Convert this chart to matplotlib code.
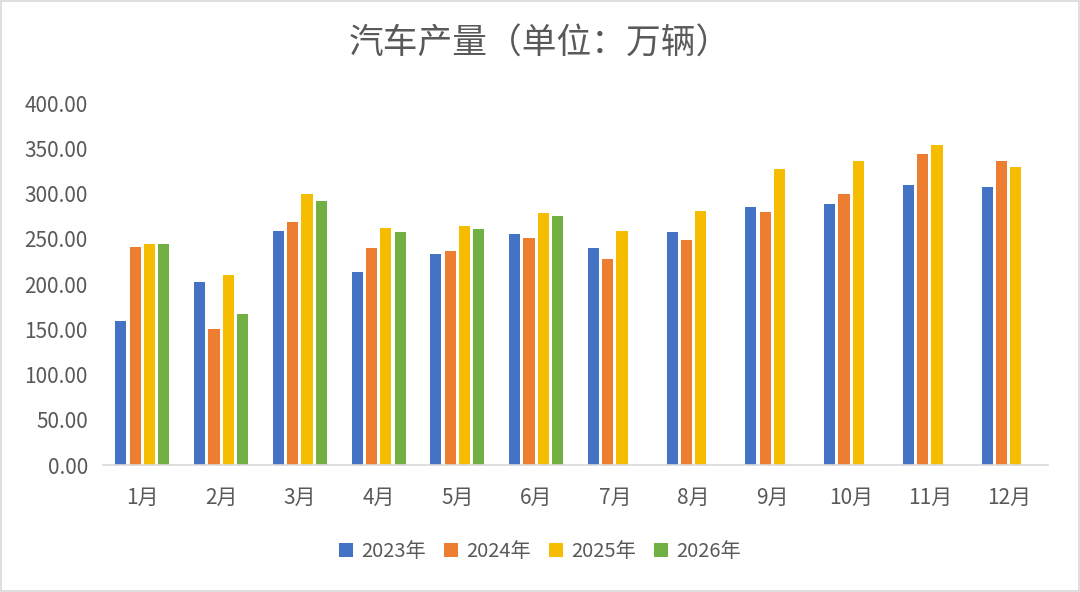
import numpy as np
import matplotlib
matplotlib.use('Agg')
import matplotlib.pyplot as plt
from matplotlib.patches import Rectangle

plt.rcParams['font.family'] = ['Noto Sans CJK SC', 'DejaVu Sans']

months = ['1月', '2月', '3月', '4月', '5月', '6月', '7月', '8月', '9月', '10月', '11月', '12月']
y2023 = [159, 202, 259, 213, 233, 255, 240, 257, 285, 288, 309, 307]
y2024 = [241, 150, 268, 240, 236, 251, 228, 249, 280, 299, 344, 336]
y2025 = [244, 210, 300, 262, 264, 279, 259, 281, 327, 336, 354, 329]
y2026 = [244, 167, 292, 257, 261, 275, np.nan, np.nan, np.nan, np.nan, np.nan, np.nan]

series = [('2023年', y2023, '#4472C4'),
          ('2024年', y2024, '#ED7D31'),
          ('2025年', y2025, '#F5BC00'),
          ('2026年', y2026, '#72B043')]

grey = '#595959'

fig = plt.figure(figsize=(10.8, 5.92), dpi=100)
fig.patches.append(Rectangle((0.001, 0.001), 0.998, 0.997, transform=fig.transFigure,
                             fill=False, edgecolor='#D9D9D9', linewidth=1.2))
ax = fig.add_axes([0.0954, 0.2145, 0.875, 0.6115])

x = np.arange(len(months))
pitch = 0.182
width = 0.142
for i, (name, vals, col) in enumerate(series):
    ax.bar(x + (i - 1.5) * pitch, vals, width=width, color=col, label=name)

ax.set_xlim(-0.5, len(months) - 0.5)
ax.set_ylim(0, 400)
ax.set_yticks(np.arange(0, 401, 50))
ax.set_yticklabels(['%.2f' % v for v in np.arange(0, 401, 50)])
ax.set_xticks(x)
ax.set_xticklabels(months)
ax.tick_params(axis='both', length=0, labelsize=15, colors=grey)
ax.tick_params(axis='x', pad=16)
ax.tick_params(axis='y', pad=11)

for s in ['top', 'right', 'left']:
    ax.spines[s].set_visible(False)
ax.spines['bottom'].set_color('#D9D9D9')
ax.spines['bottom'].set_linewidth(1.2)

fig.text(0.5, 0.925, '汽车产量（单位：万辆）', ha='center', va='center',
         fontsize=25, color=grey)

fig.legend(loc='center', bbox_to_anchor=(0.5, 0.068), ncol=4, frameon=False,
           fontsize=14.5, labelcolor=grey, handlelength=0.7, handleheight=0.7,
           handletextpad=0.4, columnspacing=0.9)

fig.savefig('out.png', dpi=100, facecolor='white')
